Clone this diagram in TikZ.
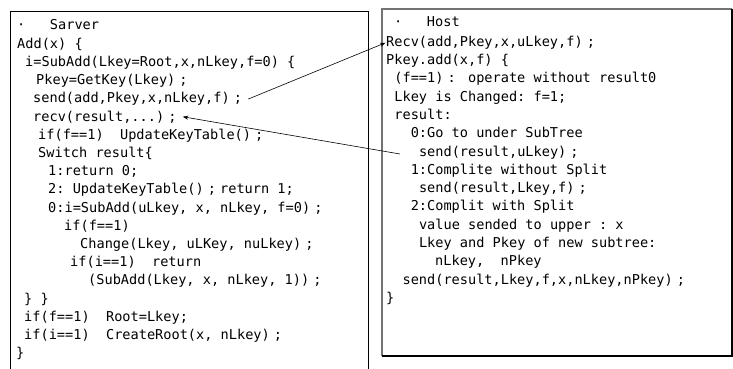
\documentclass[tikz,border=0pt]{standalone}
\usepackage{fontspec}
\setmonofont{DejaVu Sans Mono}
\usetikzlibrary{arrows.meta}
\newlength\cw
\newcommand\codefont{\ttfamily\fontsize{13.6}{16}\selectfont}
\newcommand\fsc{\makebox[2\cw][c]{;}}
\newcommand\fcl{\makebox[2\cw][c]{:}}
\tikzset{
  code/.style={anchor=base west, inner sep=0pt, font=\codefont, text=black},
  conn/.style={draw=black, line width=0.6pt, -{Stealth[length=5.5pt,width=4pt]}},
  framel/.style={draw=black, line width=1pt},
  frameshade/.style={draw=black!55, line width=1.4pt},
  framedark/.style={draw=black, line width=1.4pt},
}
\begin{document}
\settowidth\cw{\codefont 0}
\begin{tikzpicture}[x=1pt,y=-1pt]
\useasboundingbox (0,0) rectangle (733,369);
\fill[white] (0,0) rectangle (733,369);
% left box
\draw[framel] (10,375) -- (10,12) -- (368,12) -- (368,375);
% right box
\draw[frameshade] (382,356) -- (382,9) -- (732,9);
\draw[framedark] (382,356) -- (732,356) -- (732,9);
% left text
\node[code] (l0) at (17,30) {·~~~Sarver};
\node[code] (l1) at (17,48.2) {Add(x)~\{};
\node[code] (l2) at (25,66.4) {i=SubAdd(Lkey=Root,x,nLkey,f=0)~\{};
\node[code] (l3) at (36,84.6) {Pkey=GetKey(Lkey)\fsc};
\node[code] (l4) at (33,102.8) {send(add,Pkey,x,nLkey,f)\fsc};
\node[code] (l5) at (33,121) {recv(result,...)\fsc};
\node[code] (l6) at (38,139.2) {if(f==1)~~UpdateKeyTable()\fsc};
\node[code] (l7) at (38,157.4) {Switch~result\{};
\node[code] (l8) at (48,175.6) {1:return~0;};
\node[code] (l9) at (48,193.8) {2:~UpdateKeyTable()\fsc return~1;};
\node[code] (l10) at (48,212) {0:i=SubAdd(uLkey,~x,~nLkey,~f=0)\fsc};
\node[code] (l11) at (64,230.2) {if(f==1)};
\node[code] (l12) at (80,248.4) {Change(Lkey,~uLKey,~nuLkey)\fsc};
\node[code] (l13) at (70,266.6) {if(i==1)~~return};
\node[code] (l14) at (88,284.8) {(SubAdd(Lkey,~x,~nLkey,~1))\fsc};
\node[code] (l15) at (24,303) {\}~\}};
\node[code] (l16) at (24,321.2) {if(f==1)~~Root=Lkey;};
\node[code] (l17) at (24,339.4) {if(i==1)~~CreateRoot(x,~nLkey)\fsc};
\node[code] (l18) at (16,357.6) {\}};
% right text
\node[code] (r0) at (394,27) {·~~~Host};
\node[code] (r1) at (386,46.5) {Recv(add,Pkey,x,uLkey,f)\fsc};
\node[code] (r2) at (386,64.5) {Pkey.add(x,f)~\{};
\node[code] (r3) at (394.2,82.8) {(f==1)\fcl~operate~without~result0};
\node[code] (r4) at (394.2,101.1) {Lkey~is~Changed:~f=1;};
\node[code] (r5) at (394.2,119.4) {result:};
\node[code] (r6) at (410.6,137.7) {0:Go~to~under~SubTree};
\node[code] (r7) at (418.8,156) {send(result,uLkey)\fsc};
\node[code] (r8) at (410.6,174.3) {1:Complite~without~Split};
\node[code] (r9) at (418.8,192.6) {send(result,Lkey,f)\fsc};
\node[code] (r10) at (410.6,210.9) {2:Complit~with~Split};
\node[code] (r11) at (418.8,229.2) {value~sended~to~upper~:~x};
\node[code] (r12) at (418.8,247.5) {Lkey~and~Pkey~of~new~subtree:};
\node[code] (r13) at (435,265.8) {nLkey,~~nPkey};
\node[code] (r14) at (402.4,284.1) {send(result,Lkey,f,x,nLkey,nPkey)\fsc};
\node[code] (r15) at (386,302.4) {\}};
% connectors
\coordinate (a2) at (400,154);
\draw[conn] ([xshift=2pt]l4.east) -- ([xshift=-0.5pt]r1.west);
\draw[conn] (a2) -- ([xshift=2pt]l5.east);
\end{tikzpicture}
\end{document}
